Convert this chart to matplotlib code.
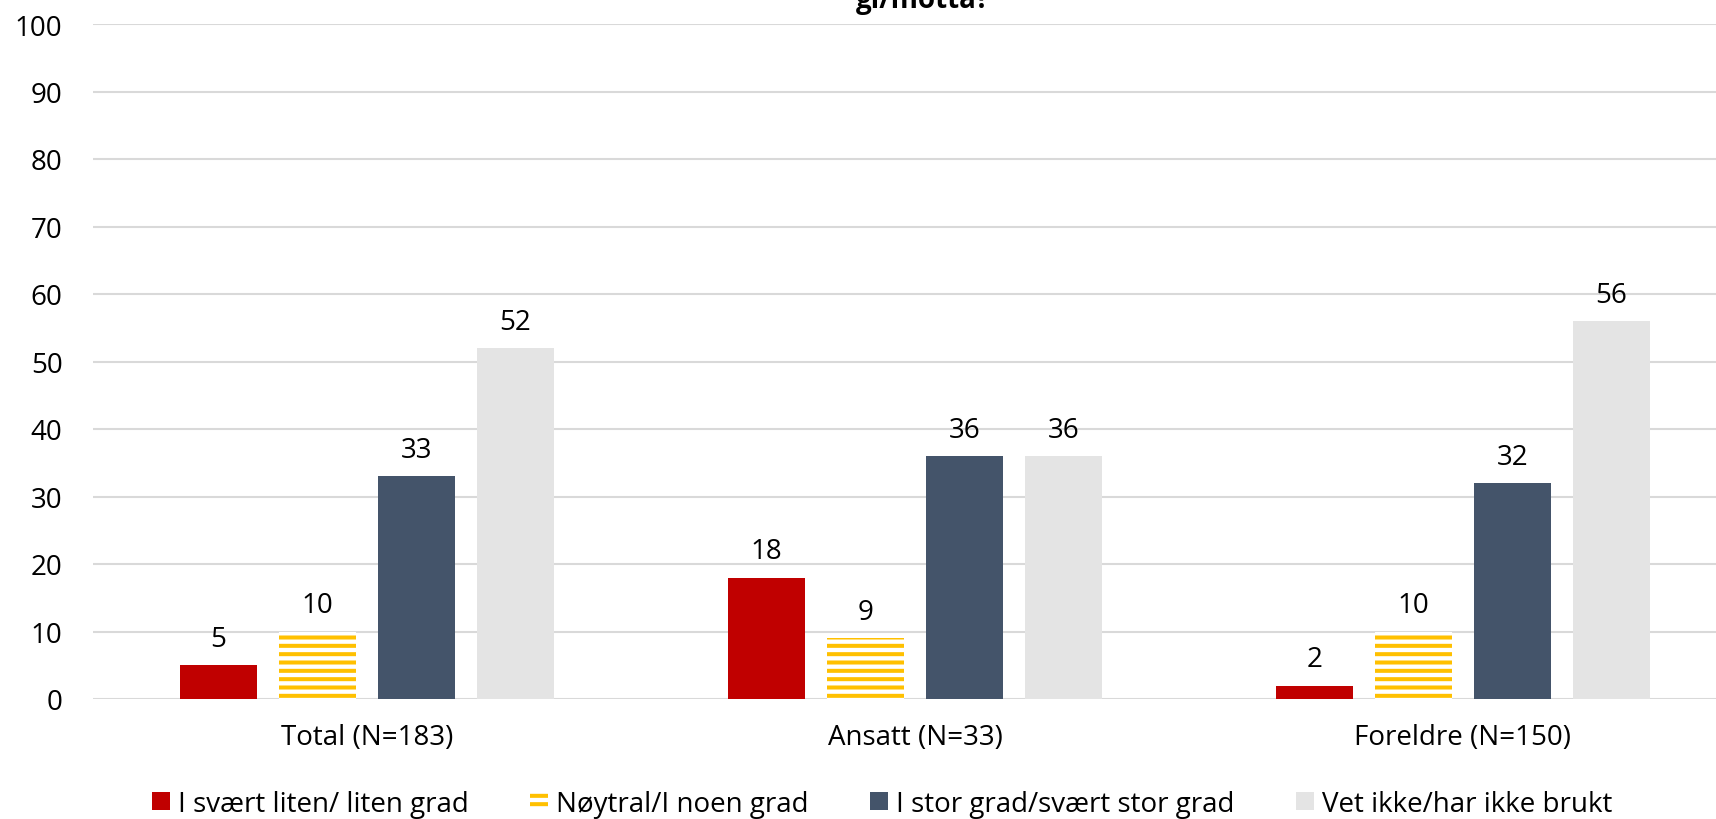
import matplotlib
matplotlib.use("Agg")
import matplotlib.pyplot as plt
from matplotlib import font_manager
import numpy as np

# data
groups = ["Total (N=183)", "Ansatt (N=33)", "Foreldre (N=150)"]
series = ["I svært liten/ liten grad", "Nøytral/I noen grad",
          "I stor grad/svært stor grad", "Vet ikke/har ikke brukt"]
low = [5, 18, 2]
neutral = [10, 9, 10]
high = [33, 36, 32]
dontknow = [52, 36, 56]
values = [low, neutral, high, dontknow]

colors = ["#C00000", "#FFC000", "#44546A", "#E4E4E4"]

names = {f.name for f in font_manager.fontManager.ttflist}
main_font = "Open Sans" if "Open Sans" in names else "DejaVu Sans"

plt.rcParams["font.family"] = [main_font, "DejaVu Sans"]
plt.rcParams["hatch.linewidth"] = 2.9

fig = plt.figure(figsize=(17.16, 8.2), dpi=100)
ax = fig.add_axes([93 / 1716, 1 - 700 / 820, 1 - 93 / 1716, (700 - 25) / 820])

x = np.arange(len(groups))
width = 0.142
pitch = 0.1807
offsets = (np.arange(4) - 1.5) * pitch

for i, (name, vals) in enumerate(zip(series, values)):
    if i == 1:
        bars = ax.bar(x + offsets[i], vals, width, facecolor="white",
                      edgecolor=colors[i], hatch="--", linewidth=0,
                      label=name, zorder=3)
    else:
        bars = ax.bar(x + offsets[i], vals, width, color=colors[i],
                      label=name, zorder=3)
    for b, v in zip(bars, vals):
        ax.annotate(str(v), (b.get_x() + b.get_width() / 2, v),
                    xytext=(0, 14), textcoords="offset points",
                    ha="center", va="baseline", fontsize=20)

ax.set_ylim(0, 100)
ax.set_yticks(range(0, 101, 10))
ax.set_xlim(-0.5, (1716 - 367) / 548)
ax.set_xticks(x)
ax.set_xticklabels(groups)
ax.tick_params(axis="both", length=0, labelsize=20)
ax.tick_params(axis="y", pad=22)
ax.tick_params(axis="x", pad=17)
ax.yaxis.grid(True, color="#D9D9D9", linewidth=1.5, zorder=0)
ax.set_axisbelow(True)
for s in ax.spines.values():
    s.set_visible(False)

# last line of the title, cut by the top edge as in the original
fig.text(923 / 1716, 1 - 8 / 820, "gi/motta?", ha="center", va="baseline",
         fontsize=20, fontweight="bold")

fig.legend(loc="center", bbox_to_anchor=(882 / 1716, 1 - 805 / 820), ncol=4,
           frameon=False, handlelength=0.65, handleheight=0.6, handletextpad=0.3,
           columnspacing=2.2, borderaxespad=0, borderpad=0,
           prop={"size": 20})

fig.savefig("out.png", dpi=100)
